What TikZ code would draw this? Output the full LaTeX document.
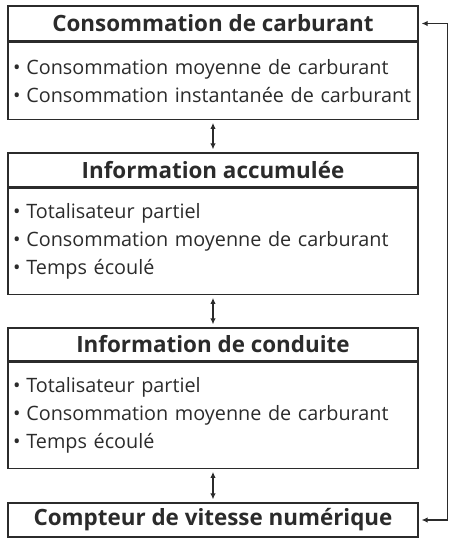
\documentclass[tikz,border=0pt]{standalone}
\usepackage{fontspec}
\setmainfont{Open Sans}
\usetikzlibrary{arrows.meta}
\definecolor{ink}{HTML}{2B2B2B}
\hyphenpenalty=10000
\newcommand{\bul}{\hspace{3pt}•\hspace{0.3em}}
\tikzset{
  head/.style={draw=ink, line width=1.3pt, minimum width=410pt, minimum height=35pt, inner sep=0pt, font=\fontsize{22.4}{26}\selectfont\bfseries, text=ink},
  body/.style={draw=ink, line width=1.3pt, minimum width=410pt, text width=406pt, inner xsep=2pt, inner ysep=0pt, align=left, font=\fontsize{19.8}{28}\selectfont, text=ink},
  link/.style={draw=ink, line width=1.1pt, {Latex[length=6pt,width=5.5pt]}-{Latex[length=6pt,width=5.5pt]}, shorten <=3pt, shorten >=3pt}
}
\begin{document}
\begin{tikzpicture}[x=1pt,y=-1pt]
\useasboundingbox (0,0) rectangle (451,542);
% first box
\node[head] (h1) at (213,23.5) {Consommation de carburant};
\node[body, minimum height=77pt, anchor=north] (b1) at (h1.south) {\bul Consommation moyenne de carburant\\\bul Consommation instantanée de carburant};
% second box
\node[head, minimum height=34pt] (h2) at (213,170) {Information accumulée};
\node[body, minimum height=106pt, anchor=north] (b2) at (h2.south) {\bul Totalisateur partiel\\\bul Consommation moyenne de carburant\\\bul Temps écoulé};
% third box
\node[head, minimum height=33pt] (h3) at (213,344.5) {Information de conduite};
\node[body, minimum height=106pt, anchor=north] (b3) at (h3.south) {\bul Totalisateur partiel\\\bul Consommation moyenne de carburant\\\bul Temps écoulé};
% last box
\node[head, minimum height=34pt] (h4) at (213,520) {Compteur de vitesse numérique};
% links
\draw[link] (b1.south) -- (h2.north);
\draw[link] (b2.south) -- (h3.north);
\draw[link] (b3.south) -- (h4.north);
\draw[link, shorten <=0pt] (h1.east) ++(3,0) -- ++(26,0) |- (h4.east);
\end{tikzpicture}
\end{document}
